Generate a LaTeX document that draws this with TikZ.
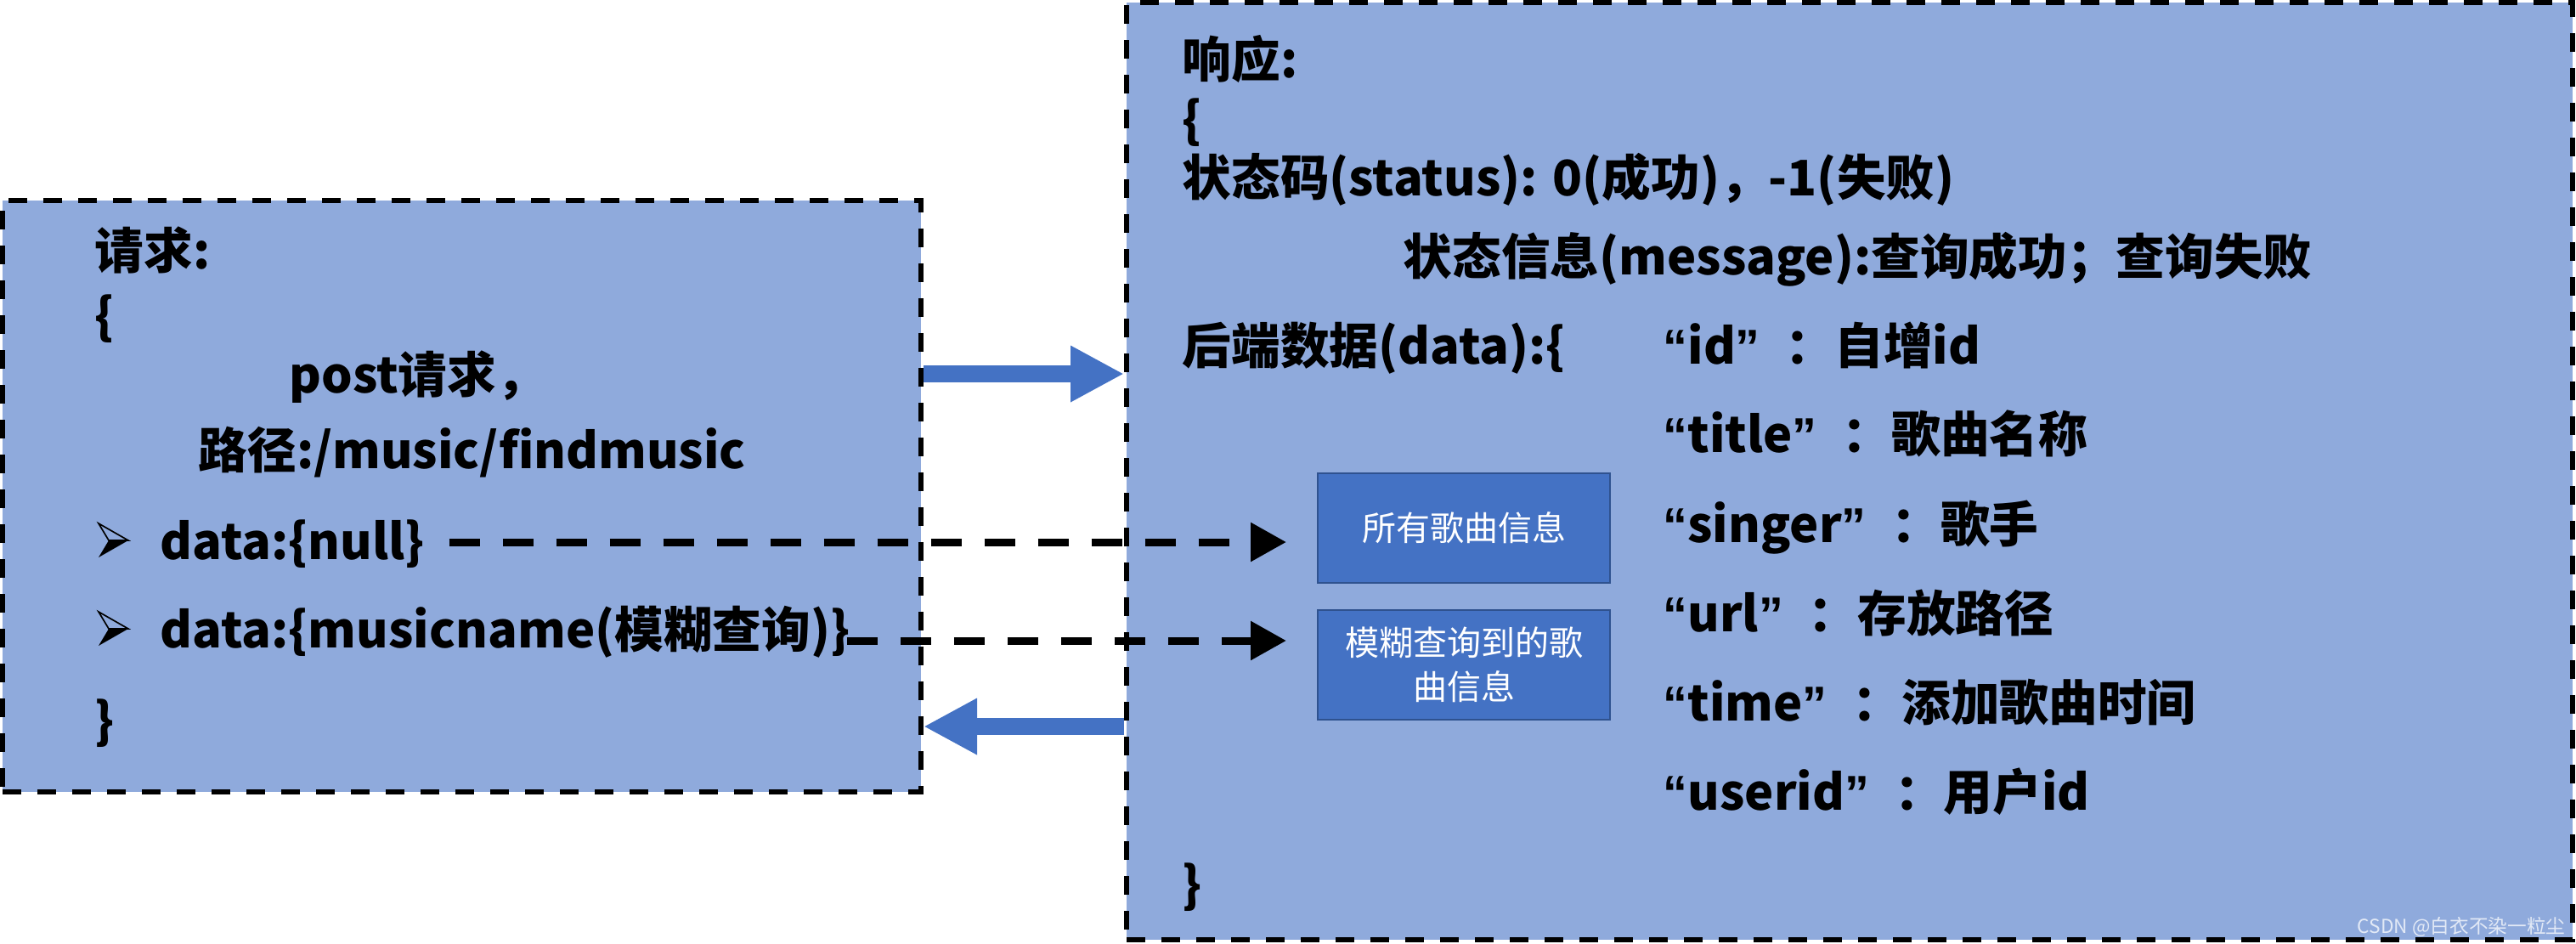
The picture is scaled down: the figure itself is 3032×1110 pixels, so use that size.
\documentclass[tikz,border=0pt]{standalone}
\usepackage{fontspec}
\setmainfont{Noto Sans CJK SC}
\newfontfamily\quotefont{Liberation Sans}
\newcommand\myoq{{\quotefont\bfseries “}}
\newcommand\mycq{{\quotefont\bfseries ”}\hspace{9pt}}
\usetikzlibrary{arrows.meta,calc}
\definecolor{lightblue}{HTML}{8FAADC}
\definecolor{midblue}{HTML}{4472C4}
\definecolor{darkblue}{HTML}{2F528F}
\begin{document}
\begin{tikzpicture}[x=0.3pt,y=-0.3pt,
  panel/.style={draw=black, fill=lightblue, line width=1.8pt, dash pattern=on 6.6pt off 5.7pt, inner sep=0pt},
  txt/.style={anchor=west, inner sep=0pt, font=\bfseries\fontsize{17.3pt}{21pt}\selectfont, text height=16pt, text depth=3.2pt},
  result/.style={draw=darkblue, line width=0.6pt, fill=midblue, text=white, minimum width=103.2pt, minimum height=38.7pt, inner sep=0pt, align=center, font=\fontsize{12pt}{15.6pt}\selectfont},
  bigarrow/.style={midblue, line width=6pt, -{Triangle[length=18.9pt,width=18.6pt]}},
  dasharrow/.style={black, line width=2.7pt, dash pattern=on 10.8pt off 8.1pt, -{Triangle[length=12.6pt,width=13.2pt]}},
  bulletarrow/.pic={
    \draw[black, line width=0.5pt, line join=miter] (-17,-20) -- (18,0) -- (-5,0) -- cycle;
    \fill[black] (-5,0) -- (18,0) -- (-17,20) -- cycle;
  }
]
\useasboundingbox (0,0) rectangle (3032,1110);
% panels
\node[panel, minimum width=324.3pt, minimum height=208.8pt] (L) at (543.5,584) {};
\node[panel, minimum width=510.6pt, minimum height=330.9pt] (R) at (2177,554.5) {};
% left text
\node[txt] (req) at (111,295) {请求:};
\node[txt] (lb1) at (111,372) {\{};
\node[txt] (post) at (340,441) {post请求，};
\node[txt] (path) at (233,530) {路径:/music/findmusic};
\pic at (133,636) {bulletarrow};
\node[txt] (null) at (188,637) {data:\{null\}};
\pic at (133,740) {bulletarrow};
\node[txt] (fuzzy) at (188,741) {data:\{musicname(模糊查询)\}};
\node[txt] (rb1) at (111,848) {\}};
% right text
\node[txt] (resp) at (1391,70) {响应:};
\node[txt] (lb2) at (1391,141) {\{};
\node[txt] (status) at (1391,209) {状态码(status): 0(成功)，-1(失败)};
\node[txt] (msg) at (1651,302) {状态信息(message):查询成功；查询失败};
\node[txt] (data) at (1391,407) {后端数据(data):\{};
\node[txt] (fid) at (1957,407) {\myoq id\mycq：自增id};
\node[txt] (ftitle) at (1957,511) {\myoq title\mycq：歌曲名称};
\node[txt] (fsinger) at (1957,617) {\myoq singer\mycq：歌手};
\node[txt] (furl) at (1957,722) {\myoq url\mycq：存放路径};
\node[txt] (ftime) at (1957,827) {\myoq time\mycq：添加歌曲时间};
\node[txt] (fuser) at (1957,932) {\myoq userid\mycq：用户id};
\node[txt] (rb2) at (1391,1041) {\}};
% result boxes
\node[result] (b1) at (1723,621.5) {所有歌曲信息};
\node[result] (b2) at (1723,782.5) {模糊查询到的歌\\曲信息};
% arrows
\draw[bigarrow] ($(L.east)+(0,-144)$) -- ($(R.west |- L.east)+(0,-144)$);
\draw[bigarrow] ($(R.west |- L.east)+(0,271)$) -- ($(L.east)+(0,271)$);
\draw[dasharrow] ($(null.east)+(28,1)$) -- ($(b1.west |- null.east)+(-36,1)$);
\draw[dasharrow] ($(fuzzy.east)+(-4,13)$) -- ($(b2.west |- fuzzy.east)+(-36,13)$);
% watermark
\node[anchor=east, inner sep=0pt, text=white, opacity=0.75, font=\fontsize{6.8pt}{8pt}\selectfont] (wm) at (3020,1091) {CSDN @白衣不染一粒尘};
\end{tikzpicture}
\end{document}
